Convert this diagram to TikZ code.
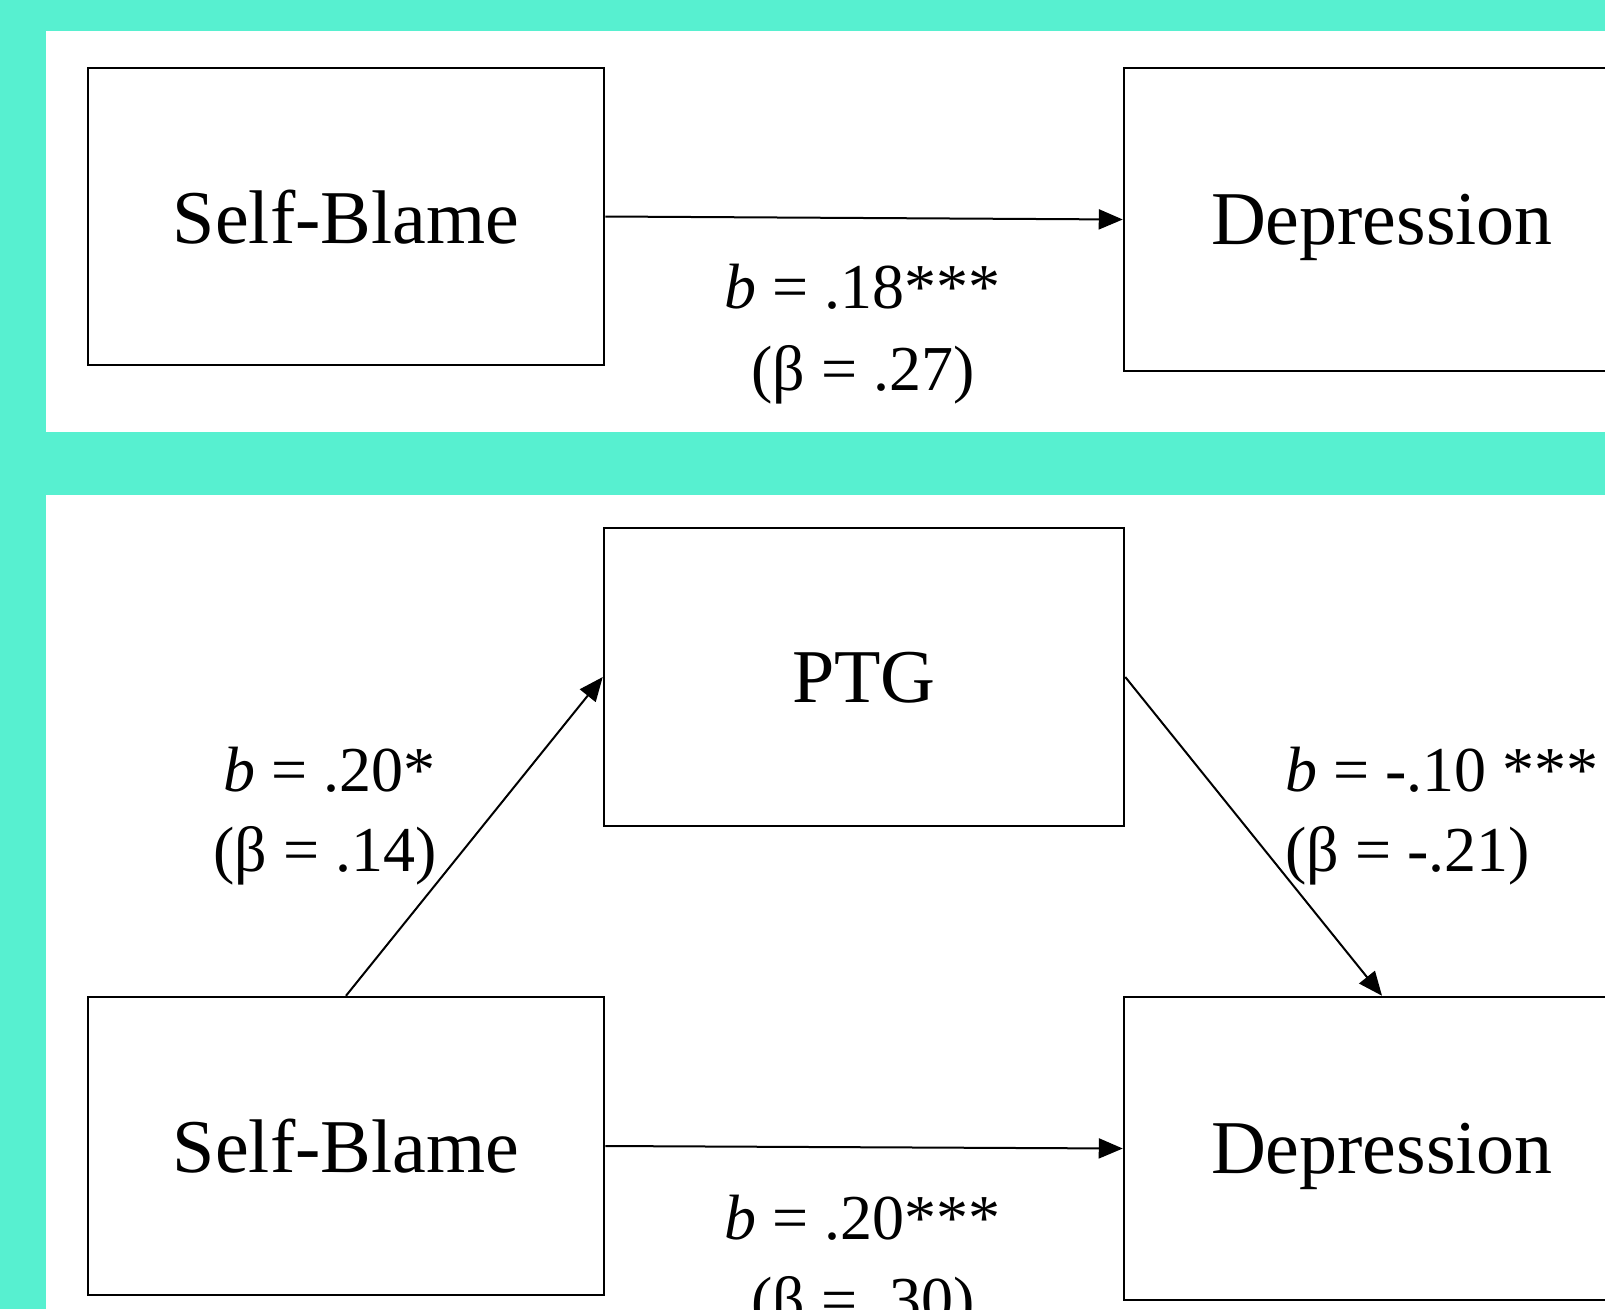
\documentclass[tikz,border=0pt]{standalone}
\usepackage{fontspec}
\setmainfont{Liberation Serif}
\usetikzlibrary{arrows.meta}
\definecolor{teal1}{RGB}{87,240,208}
\tikzset{
  varbox/.style={draw=black, line width=2.5pt, fill=white, minimum width=516pt, inner sep=0pt, text depth=0pt, font=\fontsize{76}{90}\selectfont},
  coef/.style={anchor=base, inner sep=0pt, font=\fontsize{64}{80}\selectfont},
  path/.style={draw=black, line width=2pt, -{Triangle[length=24pt,width=20pt]}}
}
\begin{document}
\begin{tikzpicture}[x=1pt,y=-1pt]
\useasboundingbox (0,0) rectangle (1605,1309);
\clip (0,0) rectangle (1605,1309);
\fill[teal1] (0,0) rectangle (1605,1309);
\fill[white] (46,31) rectangle (1605,432);
\fill[white] (46,495) rectangle (1605,1309);
% top model
\node[varbox, minimum height=297pt] (sb1) at (346,216.5) {Self-Blame};
\node[varbox, minimum height=303pt] (dep1) at (1382,219.5) {Depression};
\draw[path] (sb1.east) -- (dep1.west);
\node[coef] (l1a) at (863,308) {\textit{b} = .18***};
\node[coef] (l1b) at (863,390) {(β = .27)};
% bottom model
\node[varbox, minimum width=520pt, minimum height=298pt] (ptg) at (864,677) {PTG};
\node[varbox, minimum height=298pt] (sb2) at (346,1146) {Self-Blame};
\node[varbox, minimum height=303pt] (dep2) at (1382,1148.5) {Depression};
\draw[path] (sb2.north) -- (ptg.west);
\draw[path] (ptg.east) -- (dep2.north);
\draw[path] (sb2.east) -- (dep2.west);
\node[coef] (l2a) at (330,791) {\textit{b} = .20*};
\node[coef] (l2b) at (325,871) {(β = .14)};
\node[coef, anchor=base west] (l3a) at (1285,791) {\textit{b} = -.10 ***};
\node[coef, anchor=base west] (l3b) at (1285,871) {(β = -.21)};
\node[coef] (l4a) at (863,1239) {\textit{b} = .20***};
\node[coef] (l4b) at (863,1321) {(β = .30)};
\end{tikzpicture}
\end{document}
